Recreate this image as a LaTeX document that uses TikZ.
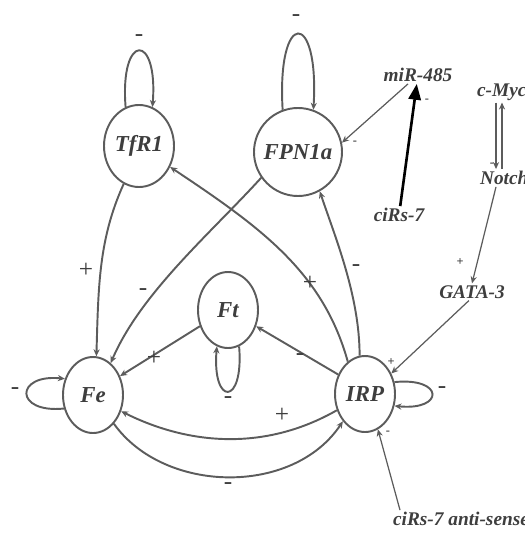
\documentclass[tikz,border=0pt]{standalone}
\usepackage{fontspec}
\setmainfont{Liberation Serif}
\usepackage{xcolor}
\usepackage{tikz}
\usetikzlibrary{positioning}
\usetikzlibrary{arrows,arrows.meta,shapes}
\usetikzlibrary{calc}
\definecolor{ink}{HTML}{3E3E3E}
\definecolor{wire}{HTML}{5C5C5C}
\tikzstyle{vertex}=[ellipse,draw=wire,line width=1.1pt,fill=white,inner xsep=-3pt,inner ysep=0pt,text=ink,font=\fontsize{13}{15}\selectfont\bfseries\itshape]
\tikzstyle{gene}=[inner sep=1pt,text=ink,font=\fontsize{11}{13}\selectfont\bfseries\itshape]
\tikzstyle{edge} = [draw=wire,line width=1.1pt,-{Stealth[length=4pt,width=3.5pt]}]
\tikzstyle{regedge} = [draw=wire,line width=0.7pt,-{Stealth[length=4pt,width=3.5pt]}]
\tikzstyle{sign} = [text=ink,font=\Large,inner sep=0pt]
\tikzstyle{smallsign} = [text=ink,font=\scriptsize\bfseries,inner sep=0pt]

\begin{document}
\begin{tikzpicture}[x=0.02cm,y=-0.02cm]

 \useasboundingbox (0,0) rectangle (524,534);

 %iron network
 \foreach \x/\y/\w/\h/\name/\label in {139/146/70/82/TfR1/TfR1, 298/152/88/88/FPN1a/FPN1a, 93/395/60/76/Fe/Fe, 228/310/60/76/Ft/Ft, 365/394/60/76/IRP/IRP}
   \node[vertex,minimum width=\w*0.02cm,minimum height=\h*0.02cm] (\name) at (\x,\y) {\label};

 %self loops
 \draw[edge] (TfR1.109) .. controls +(-6,-75) and +(6,-75) .. (TfR1.71);
 \draw[edge] (FPN1a.110) .. controls +(-6,-101) and +(6,-101) .. (FPN1a.70);
 \draw[edge] (Ft.-73) .. controls +(5,60) and +(-5,60) .. (Ft.-107);
 \draw[edge] (Fe.-155) .. controls +(-50,5) and +(-50,-5) .. (Fe.150);
 \draw[edge] (IRP.22) .. controls +(50,-5) and +(50,5) .. (IRP.-22);

 %interactions
 \draw[edge] (TfR1.-112) .. controls +(-25,55) and +(2,-70) .. (Fe.85);
 \draw[edge] (FPN1a.-145) .. controls +(-50,55) and +(30,-70) .. (Fe.61);
 \draw[edge] (IRP.118) .. controls +(-25,-90) and +(90,60) .. (TfR1.-34);
 \draw[edge] (IRP.98) .. controls +(0,-60) and +(15,45) .. (FPN1a.-61);
 \draw[edge] (Ft.-150) -- (Fe.35);
 \draw[edge] (IRP.144) -- (Ft.-30);
 \draw[edge] (IRP.-150) .. controls +(-70,40) and +(70,35) .. (Fe.-30);
 \draw[edge] (Fe.-54) .. controls +(50,70) and +(-50,75) .. (IRP.-129);

 \foreach \x/\y/\name/\label in {139/38/sTfR/-, 296/18/sFPN/-, 228/400/sFt/-, 15/391/sFe/-, 442/390/sIRP/-, 86/270/sTfRFe/+, 143/292/sFPNFe/-, 310/283/sIRPTfR/+, 356/268/sIRPFPN/-, 154/358/sFtFe/+, 300/357/sIRPFt/-, 282/415/sIRPFe/+, 228/486/sFeIRP/-}
   \node[sign] (\name) at (\x,\y) {\label};

 %regulators
 \node[gene] (mir) at (418,75) {miR-485};
 \node[gene] (cirs) at (399,215) {ciRs-7};
 \node[gene,anchor=west] (cmyc) at (475,92) {c-Myc};
 \node[gene,anchor=west] (notch) at (478,178) {Notch};
 \node[gene] (gata) at (472,292) {GATA-3};
 \node[gene,anchor=west] (anti) at (391,519) {ciRs-7 anti-sense};

 \draw[black,line width=1.5pt,-{Triangle[length=9pt,width=7pt]}] (cirs) -- (mir);
 \draw[regedge] (mir) -- (FPN1a.12);
 \draw[regedge] (496,0 |- cmyc.south) -- (496,0 |- notch.north);
 \draw[regedge] (502,0 |- notch.north) -- (502,0 |- cmyc.south);
 \draw[regedge] (496,0 |- notch.south) -- (gata.north);
 \draw[regedge] (gata.250) -- (IRP.38);
 \draw[regedge] (400,0 |- anti.north) -- (IRP.-70);

 \foreach \x/\y/\name/\label in {355/143/sMirFPN/-, 427/101/sCirsMir/-, 492/165/sMycNotch/-, 460/262/sNotchGata/+, 391/362/sGataIRP/+, 388/433/sAntiIRP/-}
   \node[smallsign] (\name) at (\x,\y) {\label};

\end{tikzpicture}
\end{document}
